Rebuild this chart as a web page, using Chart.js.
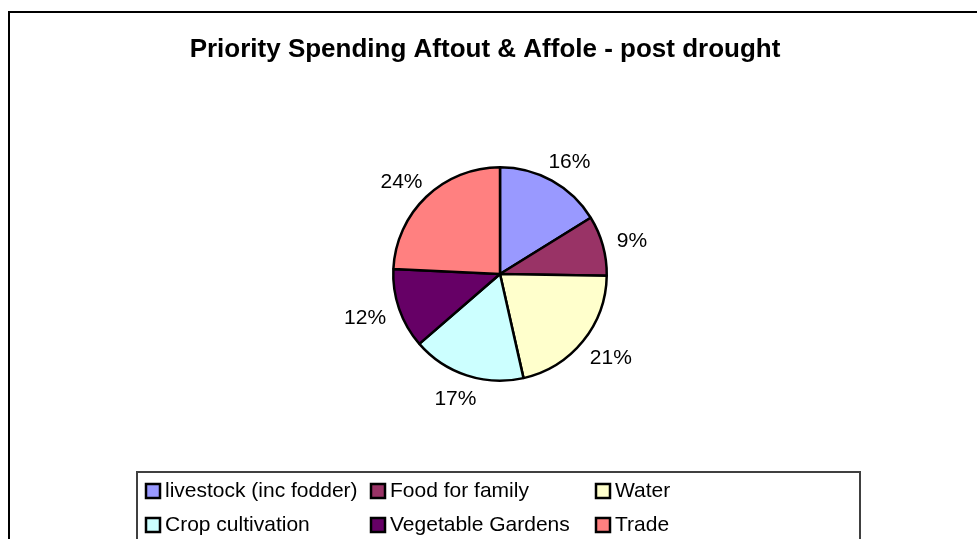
<!DOCTYPE html>
<html>
<head>
<meta charset="utf-8">
<script src="https://cdn.jsdelivr.net/npm/chart.js@4"></script>
<style>
  body { margin: 0; background: #fff; }
  canvas { display: block; }
</style>
</head>
<body>
<canvas id="piechart" width="977" height="539"></canvas>
<script>
const categories = ['livestock (inc fodder)', 'Food for family', 'Water', 'Crop cultivation', 'Vegetable Gardens', 'Trade'];
const shares = [16, 9, 21, 17, 12, 24];
const sliceColors = ['#9999FF', '#993366', '#FFFFCC', '#CCFFFF', '#660066', '#FF8080'];
const chartTitle = 'Priority Spending Aftout & Affole - post drought';

const FONT = '"Liberation Sans", Arial, sans-serif';

// frame, title and legend box drawn like the old spreadsheet chart
const decorations = {
    id: 'decorations',
    beforeDraw(chart) {
        const ctx = chart.ctx;
        ctx.save();
        ctx.fillStyle = '#fff';
        ctx.fillRect(0, 0, chart.width, chart.height);
        ctx.strokeStyle = '#000';
        ctx.lineWidth = 2;
        ctx.strokeRect(9, 12, chart.width + 20, chart.height + 20);
        ctx.restore();
    },
    afterDraw(chart) {
        const ctx = chart.ctx;
        ctx.save();
        // title
        ctx.fillStyle = '#000';
        ctx.font = 'bold 26px ' + FONT;
        ctx.textAlign = 'center';
        ctx.textBaseline = 'alphabetic';
        ctx.fillText(chartTitle, 485, 57);

        // legend
        ctx.strokeStyle = '#404040';
        ctx.lineWidth = 2;
        ctx.strokeRect(137, 472, 723, 100);
        const colX = [146, 371, 596];
        const rowY = [497, 531];
        ctx.font = '21px ' + FONT;
        ctx.textAlign = 'left';
        categories.forEach((label, i) => {
            const x = colX[i % 3];
            const y = rowY[Math.floor(i / 3)];
            ctx.fillStyle = sliceColors[i];
            ctx.fillRect(x, y - 13, 14, 14);
            ctx.strokeStyle = '#000';
            ctx.lineWidth = 2.5;
            ctx.strokeRect(x, y - 13, 14, 14);
            ctx.fillStyle = '#000';
            ctx.fillText(label, x + 19, y);
        });
        ctx.restore();
    }
};

// percentage labels outside each slice
const outsideLabels = {
    id: 'outsideLabels',
    afterDatasetsDraw(chart) {
        const ctx = chart.ctx;
        const meta = chart.getDatasetMeta(0);
        const values = chart.data.datasets[0].data;
        const total = values.reduce((a, b) => a + b, 0);
        ctx.save();
        ctx.font = '21px ' + FONT;
        ctx.fillStyle = '#000';
        ctx.textAlign = 'center';
        ctx.textBaseline = 'middle';
        meta.data.forEach((arc, i) => {
            const p = arc.getProps(['x', 'y', 'startAngle', 'endAngle', 'outerRadius'], true);
            const mid = (p.startAngle + p.endAngle) / 2;
            const dx = Math.cos(mid);
            const dy = Math.sin(mid);
            const text = Math.round(values[i] / total * 100) + '%';
            const w = ctx.measureText(text).width;
            const h = 16;
            const r = p.outerRadius + 15;
            ctx.fillText(text, p.x + dx * r + dx * w / 2, p.y + dy * r + dy * h / 2 + 2);
        });
        ctx.restore();
    }
};

new Chart(document.getElementById('piechart'), {
    type: 'pie',
    data: {
        labels: categories,
        datasets: [{
            data: shares,
            backgroundColor: sliceColors,
            borderColor: '#000',
            borderWidth: 2.5
        }]
    },
    options: {
        responsive: false,
        animation: false,
        layout: {
            padding: { left: 392, right: 369, top: 166, bottom: 157 }
        },
        plugins: {
            legend: { display: false },
            title: { display: false },
            tooltip: { enabled: false }
        }
    },
    plugins: [decorations, outsideLabels]
});
</script>
</body>
</html>
